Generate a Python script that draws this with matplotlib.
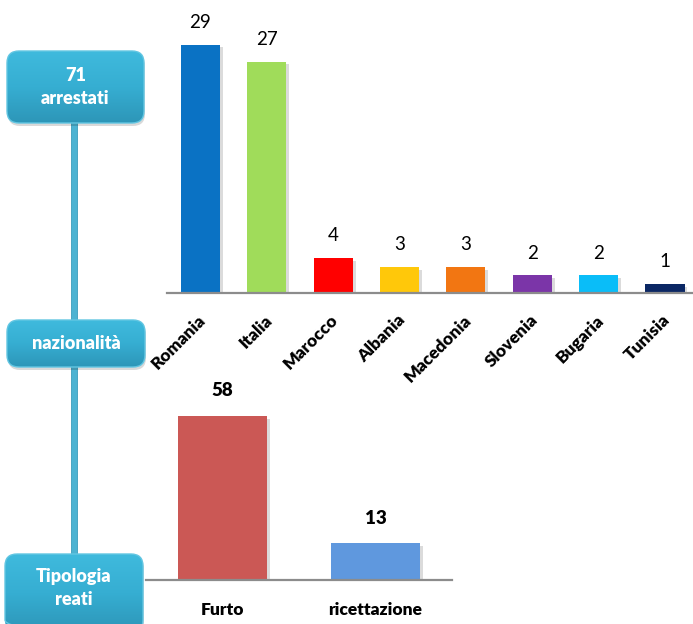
import numpy as np
import matplotlib
matplotlib.use('Agg')
import matplotlib.pyplot as plt
from matplotlib.patches import FancyBboxPatch, Rectangle
from matplotlib.colors import LinearSegmentedColormap
import matplotlib.patheffects as pe
import matplotlib.transforms as mtransforms

plt.rcParams['font.family'] = ['Lato', 'DejaVu Sans']

# arrestati per nazionalita
nazioni = ['Romania', 'Italia', 'Marocco', 'Albania', 'Macedonia', 'Slovenia', 'Bugaria', 'Tunisia']
arrestati = [29, 27, 4, 3, 3, 2, 2, 1]
colori_nazioni = ['#0A72C4', '#A0DC5A', '#FF0000', '#FFC80A', '#F27612', '#7B35A8', '#0ABDF8', '#0B2764']

# tipologia reati
reati = ['Furto', 'ricettazione']
n_reati = [58, 13]
colori_reati = ['#CB5855', '#5F98DE']

# riquadri a sinistra
box_testi = ['71\narrestati', 'nazionalità', 'Tipologia\nreati']

W, H = 693, 624
fig = plt.figure(figsize=(W / 100, H / 100), dpi=100)

# livello di sfondo in coordinate pixel
bg = fig.add_axes([0, 0, 1, 1])
bg.set_axis_off()
bg.set_zorder(0)

# linea verticale di collegamento
bg.add_patch(Rectangle((71, 120), 6, 440, facecolor='#4DB3D2', edgecolor='#3C9DBC',
                       lw=0.6, zorder=0.5))

cmap_box = LinearSegmentedColormap.from_list('box', ['#3FBADD', '#36AED2', '#2D96B8'])
grad = np.linspace(0, 1, 100).reshape(-1, 1)
boxes = [(7, 51, 144, 123), (7, 320, 145, 367), (5, 554, 143, 632)]
for (x0, y0, x1, y1), testo in zip(boxes, box_testi):
    ombra = FancyBboxPatch((x0 + 1, y0 + 3), x1 - x0, y1 - y0,
                           boxstyle='round,pad=0,rounding_size=12',
                           facecolor='#000000', alpha=0.15, edgecolor='none', zorder=1)
    bg.add_patch(ombra)
    p = FancyBboxPatch((x0, y0), x1 - x0, y1 - y0,
                       boxstyle='round,pad=0,rounding_size=12',
                       facecolor='none', edgecolor='#62C6E2', lw=1.0, zorder=3)
    bg.add_patch(p)
    im = bg.imshow(grad, cmap=cmap_box, aspect='auto', extent=(x0, x1, y1, y0),
                   origin='upper', interpolation='bilinear', zorder=2)
    im.set_clip_path(p)
    yc = (y0 + y1) / 2 if y1 <= H else (y0 + 622) / 2
    bg.text((x0 + x1) / 2, yc, testo, color='white', fontsize=13, fontweight='heavy',
            ha='center', va='center', linespacing=1.45, zorder=4)

bg.set_xlim(0, W)
bg.set_ylim(H, 0)

shadow = [pe.SimplePatchShadow(offset=(2, -2), shadow_rgbFace='#999999', alpha=0.35), pe.Normal()]

# grafico nazionalita
step = 66.36
ax1 = fig.add_axes([167.3 / W, (H - 292.5) / H, 8 * step / W, 34 * 8.55 / H])
ax1.set_zorder(2)
ax1.patch.set_alpha(0)
x = np.arange(len(nazioni))
bars = ax1.bar(x, arrestati, width=0.59, color=colori_nazioni, zorder=2)
for b in bars:
    b.set_path_effects(shadow)
for xi, v in zip(x, arrestati):
    ax1.annotate(str(v), (xi, v), xytext=(0, 10), textcoords='offset points',
                 ha='center', va='bottom', fontsize=13.5)
ax1.set_xlim(-0.5, 7.5)
ax1.set_ylim(0, 34)
for s in ['top', 'right', 'left']:
    ax1.spines[s].set_visible(False)
ax1.spines['bottom'].set_color('#8C8C8C')
ax1.spines['bottom'].set_linewidth(1.6)
ax1.spines['bottom'].set_zorder(3)
ax1.set_yticks([])
ax1.set_xticks(x)
ax1.set_xticklabels(nazioni, rotation=45, ha='right', rotation_mode='anchor',
                    fontsize=12.5, fontweight='heavy')
ax1.tick_params(axis='x', length=0, pad=14)
for lab in ax1.get_xticklabels():
    lab.set_transform(lab.get_transform() + mtransforms.ScaledTranslation(-3 / 100, 0, fig.dpi_scale_trans))

# grafico tipologia reati
ax2 = fig.add_axes([146 / W, (H - 580) / H, 306 / W, 70 * 2.83 / H])
ax2.set_zorder(2)
ax2.patch.set_alpha(0)
x2 = np.arange(len(reati))
bars2 = ax2.bar(x2, n_reati, width=0.58, color=colori_reati, zorder=2)
for b in bars2:
    b.set_path_effects(shadow)
for xi, v in zip(x2, n_reati):
    ax2.annotate(str(v), (xi, v), xytext=(0, 12), textcoords='offset points',
                 ha='center', va='bottom', fontsize=13.5, fontweight='heavy')
ax2.set_xlim(-0.5, 1.5)
ax2.set_ylim(0, 70)
for s in ['top', 'right', 'left']:
    ax2.spines[s].set_visible(False)
ax2.spines['bottom'].set_color('#8C8C8C')
ax2.spines['bottom'].set_linewidth(1.6)
ax2.spines['bottom'].set_zorder(3)
ax2.set_yticks([])
ax2.set_xticks(x2)
ax2.set_xticklabels(reati, fontsize=12.5, fontweight='heavy')
ax2.tick_params(axis='x', length=0, pad=16)

fig.savefig('out.png', dpi=100)
